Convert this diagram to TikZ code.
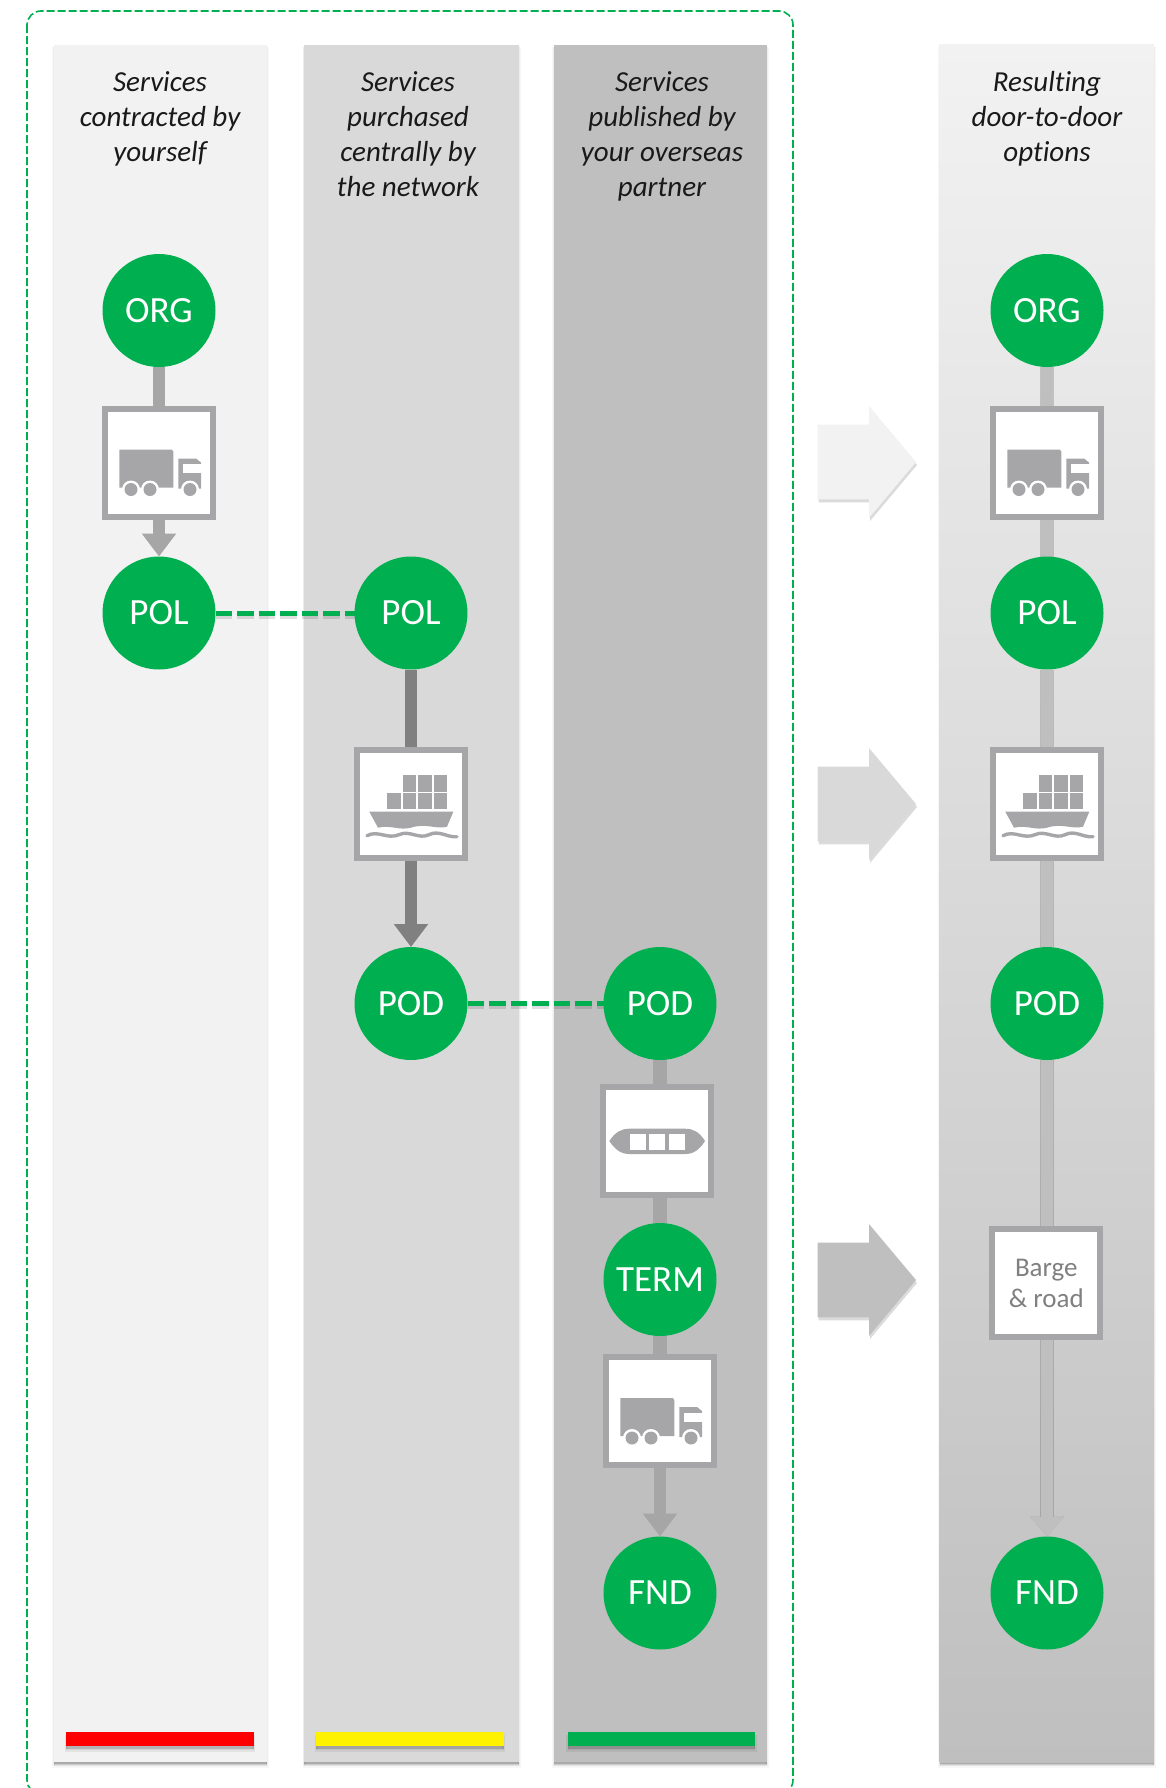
\documentclass[tikz,border=0pt]{standalone}
\usepackage{fontspec}
\setmainfont[Ligatures=NoCommon]{Carlito}
\usetikzlibrary{arrows.meta,backgrounds,calc}
\definecolor{grn}{HTML}{00B050}
\definecolor{icon}{HTML}{A6A6A9}
\definecolor{cone}{HTML}{F2F2F2}
\definecolor{ctwo}{HTML}{D9D9D9}
\definecolor{cthree}{HTML}{BFBFBF}
\definecolor{linkgrey}{HTML}{A6A6A6}
\tikzset{
  softshadow/.style={
    preaction={fill=black,fill opacity=.05,draw=black,draw opacity=.03,line width=3pt,transform canvas={yshift=-4pt}},
    preaction={fill=black,fill opacity=.12,draw=black,draw opacity=.04,line width=1.5pt,transform canvas={yshift=-3pt}},
    preaction={fill=black,fill opacity=.2,transform canvas={yshift=-2pt}}},
  hub/.style={circle,fill=grn,text=white,minimum size=113pt,inner sep=0pt,outer sep=0pt,font=\fontsize{37}{37}\selectfont},
  modebox/.style={rectangle,draw=icon,line width=6pt,fill=white,minimum size=108pt,inner sep=0pt,outer sep=3pt},
  headtext/.style={align=center,font=\fontsize{29}{35}\selectfont\itshape,text=black!90,anchor=north},
  bar/.style={
    preaction={fill=black,fill opacity=.06,draw=black,draw opacity=.06,line width=3pt,transform canvas={yshift=-4pt}},
    preaction={fill=black,fill opacity=.2,transform canvas={yshift=-3pt}}},
  lightlink/.style={line width=12.5pt,draw=#1},
  headlink/.style={line width=12.5pt,draw=#1,-{Triangle[width=33pt,length=23pt,fill=#1]}},
  handover/.style={draw=grn,line width=5pt,dash pattern=on 16.5pt off 5pt,
    preaction={draw=black,draw opacity=.12,line width=5pt,dash pattern=on 16.5pt off 5pt,transform canvas={yshift=-3pt}}},
  trunk/.style={line width=12.5pt,draw=cthree,
    preaction={draw=black,draw opacity=.16,line width=14.5pt}},
  truckicon/.pic={
    \fill[icon] (-39.7,-13) -- (11,-13) .. controls (13,-13) .. (14.3,-11) -- (14.3,25) -- (-39.7,25) -- cycle;
    \fill[icon] (19.3,-4) -- (37,-4) -- (42,0) -- (42,26) -- (19.3,26) -- cycle;
    \fill[white] (24.3,1.5) rectangle (43,10.5);
    \foreach \wx in {-28,-9,31}{\fill[white] (\wx,27) circle (9);\fill[icon] (\wx,27) circle (6.5);}
  },
  shipicon/.pic={
    \foreach \cx in {-8.3,7.3,23}{\fill[icon] (\cx,-28.7) rectangle ++(13.4,16.7);\fill[icon] (\cx,-10.3) rectangle ++(13.4,16);}
    \fill[icon] (-23.7,-10.3) rectangle ++(13.4,16);
    \fill[icon] (-41.7,8) -- (42.3,8) -- (36,23) .. controls (25,26) and (15,19) .. (0,24) .. controls (-12,27) and (-20,21) .. (-33,24) -- cycle;
    \draw[icon,line width=3.4pt,line cap=round] (-44,32) .. controls (-33,26) and (-24,36) .. (-12,31) .. controls (-2,26) and (8,36) .. (18,31) .. controls (28,26) and (36,34) .. (46,33);
  },
  bargeicon/.pic={
    \fill[icon] (-48,0) .. controls (-42,-9) and (-36,-12.3) .. (-28,-12.3) -- (28,-12.3) .. controls (36,-12.3) and (42,-9) .. (47.7,0) .. controls (42,9) and (36,13) .. (28,13) -- (-28,13) .. controls (-36,13) and (-42,9) .. (-48,0) -- cycle;
    \foreach \wx in {-27.3,-8,11.3}{\fill[white] (\wx,-6.7) rectangle ++(16,15.4);}
  }
}
\begin{document}
\begin{tikzpicture}[x=1pt,y=-1pt]
\useasboundingbox (0,0) rectangle (1165,1788);
% hubs and mode boxes
\node[hub] (orga) at (159,310.5) {ORG};
\node[hub] (pola) at (159,613) {POL};
\node[hub] (polb) at (411,613) {POL};
\node[hub] (podb) at (411,1003.5) {POD};
\node[hub] (podc) at (660,1003.5) {POD};
\node[hub] (term) at (660,1279.5) {TERM};
\node[hub] (fndc) at (660,1593) {FND};
\node[hub] (orgd) at (1047,310.5) {ORG};
\node[hub] (pold) at (1047,613) {POL};
\node[hub] (podd) at (1047,1003.5) {POD};
\node[hub] (fndd) at (1047,1593) {FND};
\node[modebox] (trucka) at (159,462.5) {};
\node[modebox] (shipb) at (411,803.7) {};
\node[modebox] (bargec) at (657.3,1141) {};
\node[modebox] (truckc) at (660,1411) {};
\node[modebox] (truckd) at (1047,462.5) {};
\node[modebox] (shipd) at (1047,803.7) {};
\node[modebox,align=center,text=black!50,font=\fontsize{27}{31}\selectfont] (bargeroad) at (1046.3,1283) {Barge\\\& road};
\pic at (trucka) {truckicon};
\pic at (shipb) {shipicon};
\pic at (bargec) {bargeicon};
\pic at (truckc) {truckicon};
\pic at (truckd) {truckicon};
\pic at (shipd) {shipicon};
% column headers
\node[headtext] (heada) at (160,68) {Services\\contracted by\\yourself};
\node[headtext] (headb) at (408,68) {Services\\purchased\\centrally by\\the network};
\node[headtext] (headc) at (662,68) {Services\\published by\\your overseas\\partner};
\node[headtext] (headd) at (1047,68) {Resulting\\door-to-door\\options};
\begin{scope}[on background layer]
  % frame
  \draw[grn,line width=1.6pt,dash pattern=on 8pt off 3pt,rounded corners=14pt] (27,11) rectangle (793,1794);
  % columns
  \fill[cone,softshadow] (53.6,44.5) rectangle (267,1762);
  \fill[ctwo,softshadow] (304,44.5) rectangle (519,1762);
  \fill[cthree,softshadow] (553.6,44.5) rectangle (767,1762);
  \shade[top color=cone,bottom color=cthree,softshadow] (939.5,44.5) rectangle (1154,1762);
  % status bars
  \fill[red,bar] (66.3,1732) rectangle (253.6,1746);
  \fill[yellow,bar] (316.3,1732) rectangle (503.6,1746);
  \fill[grn,bar] (567.9,1732) rectangle (755,1746);
  % big arrows
  \foreach \ay/\ac in {462/cone,804/ctwo,1280/cthree}{
    \fill[\ac,preaction={fill=black,fill opacity=.14,transform canvas={xshift=1pt,yshift=-3pt}}]
      (817.7,\ay-37.3) -- (869,\ay-37.3) -- (869,\ay-56) -- (916,\ay) -- (869,\ay+56) -- (869,\ay+37.3) -- (817.7,\ay+37.3) -- cycle;
  }
  % connectors
  \draw[lightlink=linkgrey] (orga) -- (trucka);
  \draw[headlink=linkgrey] (trucka) -- (pola);
  \draw[lightlink=black!50] (polb) -- (shipb);
  \draw[headlink=black!50] (shipb) -- (podb);
  \draw[lightlink=linkgrey,line width=14pt] (podc) -- (podc |- bargec.north);
  \draw[lightlink=linkgrey,line width=14pt] (podc |- bargec.south) -- (term);
  \draw[lightlink=linkgrey,line width=14pt] (term) -- (truckc);
  \draw[headlink=linkgrey] (truckc) -- (fndc);
  \draw[trunk] (orgd) -- (truckd);
  \draw[trunk] (truckd) -- (pold);
  \draw[trunk] (pold) -- (shipd);
  \draw[trunk] (shipd) -- (podd);
  \draw[trunk] (podd) -- (podd |- bargeroad.north);
  \draw[line width=12.5pt,draw=cthree,preaction={draw=black,draw opacity=.16,line width=14.5pt},-{Triangle[width=33pt,length=20pt,fill=cthree]}] (podd |- bargeroad.south) -- (fndd);
  \draw[handover] (pola) -- (polb);
  \draw[handover] (podb) -- (podc);
\end{scope}
\end{tikzpicture}
\end{document}
